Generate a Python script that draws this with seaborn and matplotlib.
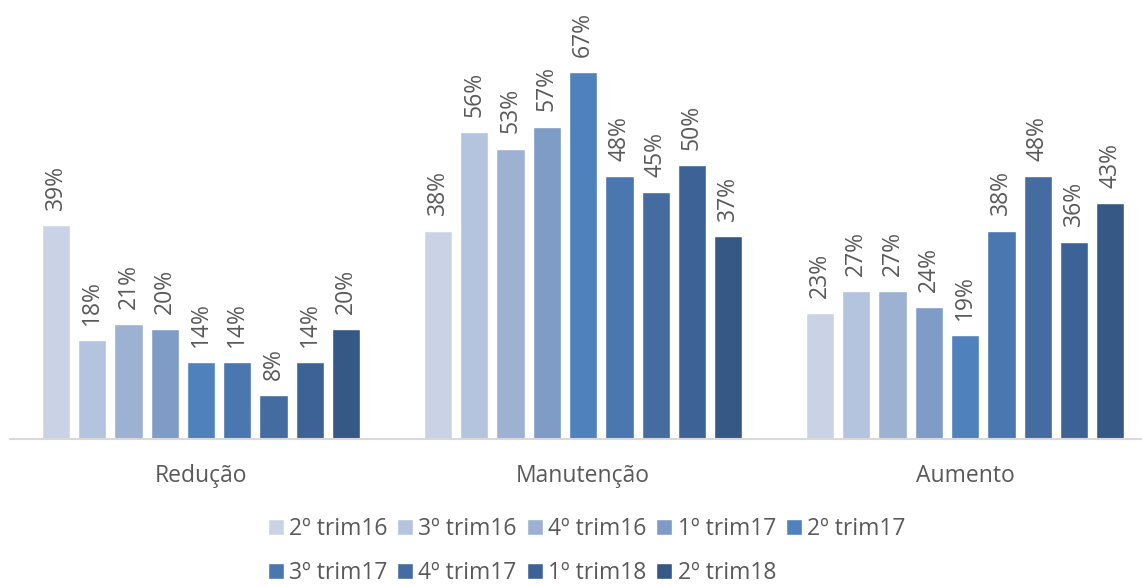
import pandas as pd
import seaborn as sns
import matplotlib.pyplot as plt

# dados
categorias = ["Redução", "Manutenção", "Aumento"]
series = ["2º trim16", "3º trim16", "4º trim16", "1º trim17", "2º trim17",
          "3º trim17", "4º trim17", "1º trim18", "2º trim18"]
reducao = [39, 18, 21, 20, 14, 14, 8, 14, 20]
manutencao = [38, 56, 53, 57, 67, 48, 45, 50, 37]
aumento = [23, 27, 27, 24, 19, 38, 48, 36, 43]

cores = ["#CAD3E6", "#B4C3DE", "#9DB1D3", "#7F9CC6", "#4F81BD",
         "#4A77B0", "#446CA0", "#3D6396", "#355884"]

sns.set_theme(style="white")
plt.rcParams["font.family"] = ["Open Sans", "DejaVu Sans"]
cinza = "#595959"

rows = []
for cat, vals in zip(categorias, [reducao, manutencao, aumento]):
    for s, v in zip(series, vals):
        rows.append({"categoria": cat, "serie": s, "valor": v})
df = pd.DataFrame(rows)

fig = plt.figure(figsize=(11.42, 5.87), dpi=100)
ax = fig.add_axes([10 / 1142, 1 - 439 / 587, 1 - 10 / 1142, 439 / 587])

sns.barplot(data=df, x="categoria", y="valor", hue="serie", order=categorias,
            hue_order=series, palette=cores, saturation=1, width=0.855,
            gap=0.22, errorbar=None, ax=ax, legend=True)

for cont in ax.containers:
    ax.bar_label(cont, fmt="%d%%", rotation=90, padding=11,
                 fontsize=16.5, color=cinza)

ax.set_xlim(-0.5, 2.463)
ax.set_ylim(0, 80.1)
ax.set_xlabel("")
ax.set_ylabel("")
ax.set_yticks([])
for s in ["top", "right", "left"]:
    ax.spines[s].set_visible(False)
ax.spines["bottom"].set_color("#D9D9D9")
ax.spines["bottom"].set_linewidth(1.5)
ax.tick_params(axis="x", length=0, pad=18, labelsize=16.5, labelcolor=cinza)

# legenda em duas linhas (5 + 4)
handles, labels = ax.get_legend_handles_labels()
ax.get_legend().remove()
ordem = [0, 5, 1, 6, 2, 7, 3, 8, 4]
fig.legend([handles[i] for i in ordem], [labels[i] for i in ordem],
           ncol=5, loc="center", bbox_to_anchor=(586.5 / 1142, 1 - 551 / 587),
           frameon=False, fontsize=16.5, labelcolor=cinza,
           handlelength=0.7, handleheight=0.7, handletextpad=0.22,
           columnspacing=0.44, labelspacing=0.9, borderpad=0)

fig.savefig("out.png", dpi=100)
